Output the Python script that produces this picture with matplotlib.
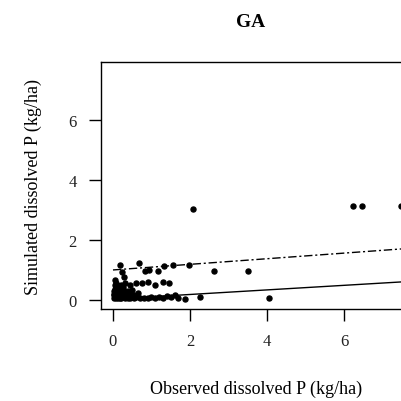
import matplotlib
matplotlib.use("Agg")
import matplotlib.pyplot as plt

# observed vs simulated dissolved P (kg/ha)
obs = [0.02, 0.05, 0.08, 0.1, 0.12, 0.15, 0.18, 0.2, 0.25, 0.3, 0.35, 0.4, 0.45, 0.5,
       0.55, 0.6, 0.7, 0.8, 0.9, 1.0, 1.1, 1.2, 1.3, 1.4, 1.5, 1.6, 1.7, 1.87, 2.26, 4.05,
       0.03, 0.06, 0.1, 0.14, 0.2, 0.28, 0.35, 0.45, 0.55, 0.65, 0.02, 0.05, 0.08, 0.12,
       0.18, 0.25, 0.32, 0.4, 0.5, 0.04, 0.08, 0.12, 0.2, 0.3, 0.45, 0.6, 0.75, 0.9, 1.1,
       1.3, 1.45, 0.05, 0.1, 0.15, 0.25, 0.03, 0.07,
       0.18, 0.68, 0.24, 0.29, 0.83, 0.94, 1.17, 1.32, 1.56, 1.97, 2.62, 3.5,
       2.08, 6.23, 6.47, 7.48]
sim = [0.05, 0.1, 0.08, 0.12, 0.06, 0.1, 0.05, 0.08, 0.1, 0.06, 0.12, 0.08, 0.05, 0.1,
       0.07, 0.1, 0.08, 0.05, 0.07, 0.1, 0.06, 0.1, 0.08, 0.12, 0.1, 0.15, 0.08, 0.02, 0.1, 0.07,
       0.2, 0.25, 0.18, 0.22, 0.2, 0.25, 0.18, 0.2, 0.15, 0.22, 0.3, 0.35, 0.28, 0.32,
       0.3, 0.35, 0.28, 0.3, 0.32, 0.5, 0.55, 0.45, 0.5, 0.55, 0.5, 0.58, 0.55, 0.6, 0.5,
       0.6, 0.55, 0.65, 0.4, 0.45, 0.42, 0.15, 0.4,
       1.17, 1.23, 0.94, 0.77, 0.97, 1.0, 0.97, 1.13, 1.17, 1.17, 0.97, 0.97,
       3.03, 3.13, 3.13, 3.13]

# fitted lines (start / end)
fit_x = [0.0, 7.48]
fit_solid = [0.03, 0.6]
fit_dash = [1.0, 1.7]

plt.rcParams["font.family"] = ["Liberation Serif", "DejaVu Serif"]

fig = plt.figure(figsize=(4.01, 4.02), dpi=100)
ax = fig.add_axes([0.252, 0.229, 0.748, 0.614])

ax.plot(obs, sim, "o", color="black", ms=3.6)
ax.plot(fit_x, fit_solid, color="black", lw=1.0)
ax.plot(fit_x, fit_dash, color="black", lw=1.0, linestyle=(0, (6, 2, 1.5, 2)))

ax.set_xlim(-0.31, 7.48)
ax.set_ylim(-0.3, 7.93)
ax.set_xticks([0, 2, 4, 6])
ax.set_yticks([0, 2, 4, 6])
ax.spines["right"].set_visible(False)
for s in ax.spines.values():
    s.set_linewidth(1.0)
ax.tick_params(direction="out", length=8.5, width=1.0, labelsize=12, pad=9,
               labelcolor="#222222")

ax.set_title("GA", fontsize=14, fontweight="bold", pad=26)
ax.set_xlabel("Observed dissolved P (kg/ha)", fontsize=13)
ax.set_ylabel("Simulated dissolved P (kg/ha)", fontsize=13, labelpad=19)
ax.xaxis.set_label_coords(0.517, -0.285)

fig.savefig("out.png", dpi=100)
